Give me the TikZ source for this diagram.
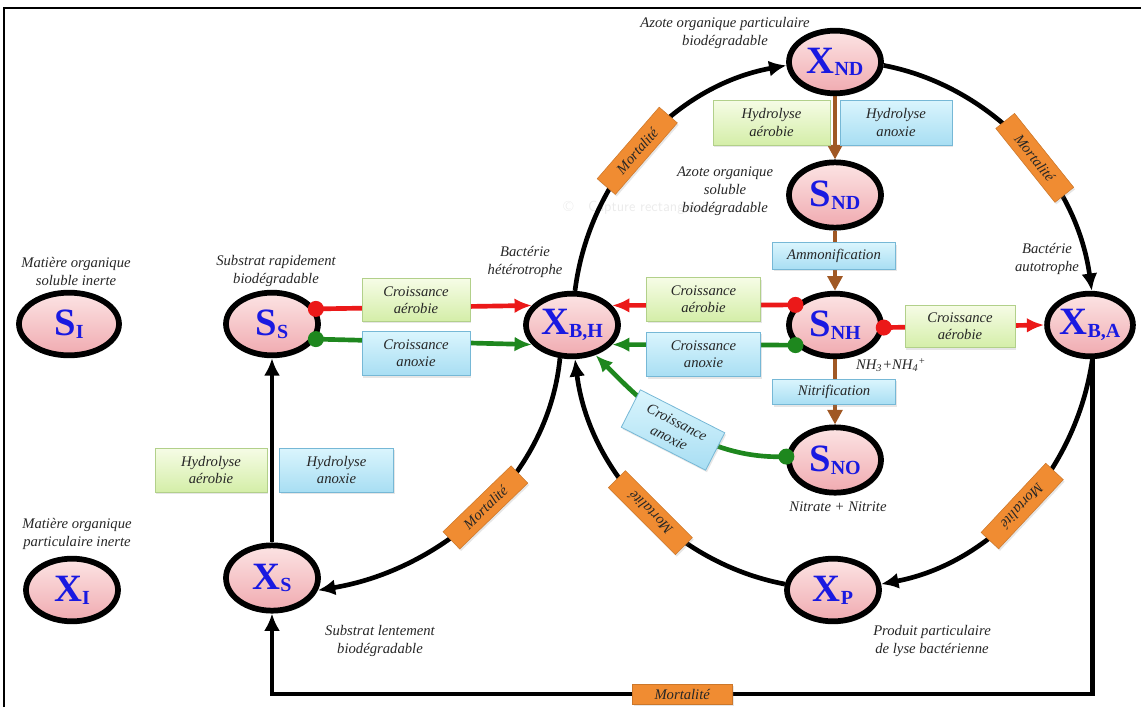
\documentclass[tikz,border=0pt]{standalone}
\usepackage{fontspec}
\setmainfont{Liberation Serif}
\usetikzlibrary{arrows.meta,shapes.geometric,shadows}
\definecolor{pinkA}{RGB}{252,228,228}
\definecolor{pinkB}{RGB}{240,170,176}
\definecolor{nodeblue}{RGB}{25,25,225}
\definecolor{grA}{RGB}{246,252,230}
\definecolor{grB}{RGB}{212,238,168}
\definecolor{grE}{RGB}{178,208,138}
\definecolor{blA}{RGB}{218,245,253}
\definecolor{blB}{RGB}{168,222,243}
\definecolor{blE}{RGB}{118,184,214}
\definecolor{orB}{RGB}{240,140,50}
\definecolor{arrred}{RGB}{235,25,25}
\definecolor{arrgreen}{RGB}{30,135,30}
\definecolor{arrbrown}{RGB}{160,88,36}
\pgfdeclarelayer{bg}
\pgfsetlayers{bg,main}
\newcommand{\nlab}[2]{{\bfseries\fontsize{29}{30}\selectfont #1\raisebox{-2pt}{\fontsize{15}{15}\selectfont #2}}}
\begin{document}
\begin{tikzpicture}[x=0.75pt,y=-0.75pt,
  comp/.style={ellipse, draw=black, line width=4.3pt, top color=pinkA, bottom color=pinkB,
    minimum width=69pt, minimum height=47pt, inner sep=0pt, text=nodeblue,
    drop shadow={opacity=0.25,shadow xshift=1.5pt,shadow yshift=-2pt}},
  desc/.style={font=\itshape\fontsize{11}{13.5}\selectfont, align=center, text=black!85, inner sep=0pt},
  boxbase/.style={line width=0.6pt, font=\itshape\fontsize{11}{13}\selectfont, align=center,
    inner sep=0pt, text=black!85, drop shadow={opacity=0.2,shadow xshift=1pt,shadow yshift=-1.5pt}},
  gbox/.style={boxbase, draw=grE, top color=grA, bottom color=grB},
  bbox/.style={boxbase, draw=blE, top color=blA, bottom color=blB},
  mort/.style={fill=orB, draw=orB!85!black, line width=0.4pt, minimum width=71pt, minimum height=18pt,
    inner sep=0pt, font=\itshape\fontsize{11}{11}\selectfont, text=black!85,
    drop shadow={opacity=0.2,shadow xshift=1pt,shadow yshift=-1.5pt}},
  blk/.style={line width=3.5pt, draw=black, -{Latex[length=13pt,width=12pt]}},
  rline/.style={line width=3.5pt, draw=arrred, -{Latex[length=13pt,width=11pt]}},
  gline/.style={line width=3.5pt, draw=arrgreen, -{Latex[length=13pt,width=11pt]}},
  brn/.style={line width=3.5pt, draw=arrbrown, -{Triangle[length=11pt,width=11pt]}}
]
\useasboundingbox (0,0) rectangle (1141,707);
\draw[line width=1.5pt] (4,707) -- (4,8) -- (1141,8);

% compartments
\node[comp, minimum width=75pt] (SI) at (69,324) {\nlab{S}{I}};
\node[comp] (SS)  at (272,324) {\nlab{S}{S}};
\node[comp] (XBH) at (572,325) {\nlab{X}{B,H}};
\node[comp] (SNH) at (835,325) {\nlab{S}{NH}};
\node[comp, minimum width=64pt] (XBA) at (1090,325) {\nlab{X}{B,A}};
\node[comp] (XND) at (835,62)  {\nlab{X}{ND}};
\node[comp, minimum height=49pt] (SND) at (835,195) {\nlab{S}{ND}};
\node[comp, minimum height=49pt] (SNO) at (835,460) {\nlab{S}{NO}};
\node[comp, minimum height=49pt] (XS)  at (272,578) {\nlab{X}{S}};
\node[comp] (XP)  at (833,590) {\nlab{X}{P}};
\node[comp] (XI)  at (72,590)  {\nlab{X}{I}};
\coordinate (BL) at (272,694);

% descriptive labels
\node[desc] (dSI)  at (76,271)  {Matière organique\\soluble inerte};
\node[desc] (dSS)  at (276,271) {Substrat rapidement\\biodégradable};
\node[desc] (dXBH) at (525,262) {Bactérie\\hétérotrophe};
\node[desc] (dXND) at (725,33)  {Azote organique particulaire\\biodégradable};
\node[desc] (dSND) at (725,191) {Azote organique\\soluble\\biodégradable};
\node[desc] (dXBA) at (1047,259) {Bactérie\\autotrophe};
\node[desc] (dSNH) at (891,365) {NH\textsubscript{3}+NH\textsubscript{4}\textsuperscript{+}};
\node[desc] (dSNO) at (838,507) {Nitrate + Nitrite};
\node[desc] (dXI)  at (77,534)  {Matière organique\\particulaire inerte};
\node[desc] (dXS)  at (380,641) {Substrat lentement\\biodégradable};
\node[desc] (dXP)  at (932,641) {Produit particulaire\\de lyse bactérienne};

% process boxes
\node[gbox, minimum width=87.75pt, minimum height=33.75pt] (hyA1) at (771.5,122.5) {Hydrolyse\\aérobie};
\node[bbox, minimum width=84pt, minimum height=33.75pt] (hyN1) at (896,122.5) {Hydrolyse\\anoxie};
\node[bbox, minimum width=92pt, minimum height=20pt] (amm) at (834,256) {Ammonification};
\node[bbox, minimum width=92pt, minimum height=19pt] (nit) at (834,392) {Nitrification};
\node[gbox, minimum width=81pt, minimum height=32pt] (cA1) at (416,300) {Croissance\\aérobie};
\node[bbox, minimum width=81pt, minimum height=33pt] (cN1) at (416,353.5) {Croissance\\anoxie};
\node[gbox, minimum width=85pt, minimum height=32.5pt] (cA2) at (703.5,299.5) {Croissance\\aérobie};
\node[bbox, minimum width=85pt, minimum height=33.5pt] (cN2) at (703.5,354.5) {Croissance\\anoxie};
\node[gbox, minimum width=82.5pt, minimum height=32pt] (cA3) at (960,326.5) {Croissance\\aérobie};
\node[bbox, rotate=-27, minimum width=71pt, minimum height=31.5pt] (cN3) at (673,430) {Croissance\\anoxie};
\node[gbox, minimum width=84pt, minimum height=33pt] (hyA2) at (211,470) {Hydrolyse\\aérobie};
\node[bbox, minimum width=85pt, minimum height=33pt] (hyN2) at (336.5,470) {Hydrolyse\\anoxie};

\begin{pgfonlayer}{bg}
\node[font=\sffamily\fontsize{11}{11}\selectfont, text=black!8] (wm) at (640,208) {©\quad Capture rectangulaire};
% mortality loop
\draw[blk] (XBH.85) .. controls (589,178) and (674,86) .. (XND.184)
  node[mort, sloped, pos=0.47] {Mortalité};
\draw[blk] (XND.-4) .. controls (991,86) and (1076,177) .. (XBA.87)
  node[mort, sloped, pos=0.56] {Mortalité};
\draw[blk] (XBA.-86) .. controls (1076,472) and (992,563) .. (XP.7)
  node[mort, sloped, allow upside down, pos=0.5] {Mortalité};
\draw[blk] (XP.173) .. controls (674,563) and (589,471) .. (XBH.-85)
  node[mort, sloped, allow upside down, pos=0.47] {Mortalité};
\draw[blk] (XBH.-110) .. controls (548,480) and (440,570) .. (XS.-15)
  node[mort, sloped, pos=0.48] {Mortalité};
\draw[blk] (XS.north) -- (SS.south);
\draw[blk] (XBA.-86) |- (BL) node[mort, pos=0.75, minimum width=75pt, minimum height=15pt] {Mortalité} -- (XS.south);
% growth
\draw[rline] (SS.19) -- (XBH.154);
\draw[gline] (SS.-19) -- (XBH.206);
\draw[rline] (SNH.153) -- (XBH.26);
\draw[gline] (SNH.207) -- (XBH.-26);
\draw[rline] (SNH.-3) -- (XBA.west);
\draw[gline] (SNO.176) .. controls (700,460) and (645,405) .. (XBH.-52);
% nitrogen
\draw[brn] (XND.south) -- (SND.north);
\draw[brn] (SND.south) -- (SNH.north);
\draw[brn] (SNH.south) -- (SNO.north);
\end{pgfonlayer}

% dots
\fill[arrred] (SS.19) circle[radius=6pt];
\fill[arrgreen] (SS.-19) circle[radius=6pt];
\fill[arrred] (SNH.153) circle[radius=6pt];
\fill[arrgreen] (SNH.207) circle[radius=6pt];
\fill[arrred] (SNH.-3) circle[radius=6pt];
\fill[arrgreen] (SNO.176) circle[radius=6pt];
\end{tikzpicture}
\end{document}
